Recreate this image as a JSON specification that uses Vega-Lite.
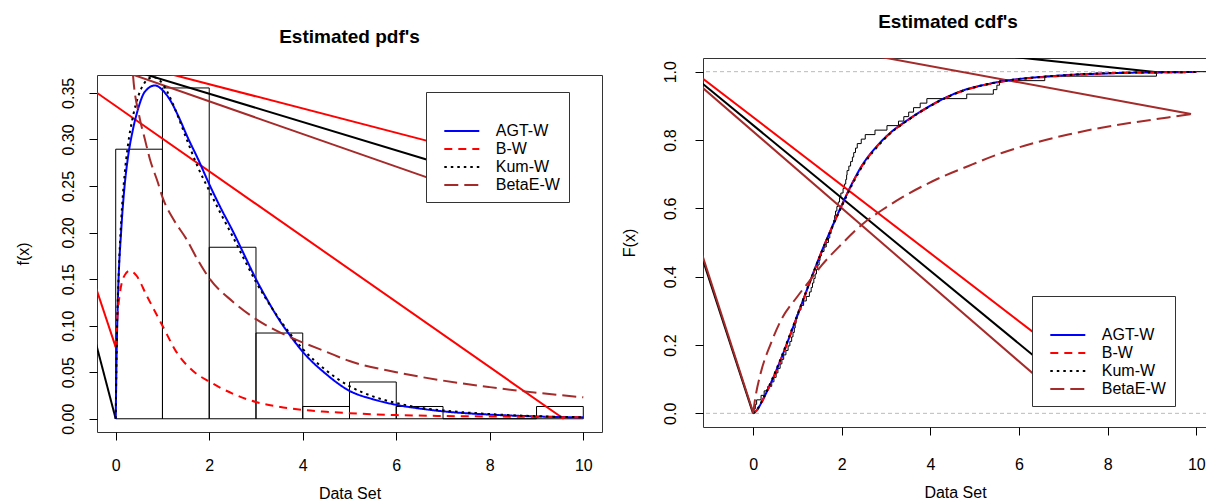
{
  "$schema": "https://vega.github.io/schema/vega-lite/v6.json",
  "padding": {"left": 14, "top": 12, "right": 0, "bottom": 0},
  "background": "white",
  "spacing": 17,
  "config": {
    "font": "Liberation Sans",
    "view": {"stroke": "#333333", "strokeWidth": 1},
    "axis": {"grid": false, "domain": false, "tickColor": "black", "tickSize": 8, "tickWidth": 1, "labelFontSize": 16, "labelColor": "black", "titleFontSize": 16, "titleFontWeight": "normal", "titleColor": "black", "labelFlush": false, "labelOverlap": false},
    "title": {"fontSize": 19, "fontWeight": "bold", "color": "black", "anchor": "middle"}
  },
  "resolve": {"scale": {"color": "independent", "strokeDash": "independent"}},
  "datasets": {
    "hist": [
      {"b0": 0, "b1": 1, "d": 0.2895}, {"b0": 1, "b1": 2, "d": 0.3553}, {"b0": 2, "b1": 3, "d": 0.1842},
      {"b0": 3, "b1": 4, "d": 0.0921}, {"b0": 4, "b1": 5, "d": 0.0132}, {"b0": 5, "b1": 6, "d": 0.0395},
      {"b0": 6, "b1": 7, "d": 0.0132}, {"b0": 7, "b1": 8, "d": 0}, {"b0": 8, "b1": 9, "d": 0}, {"b0": 9, "b1": 10, "d": 0.0132}
    ],
    "pdfseg": [
      {"seg": "a", "model": "B-W", "x": -0.6, "y": 0.357}, {"seg": "a", "model": "B-W", "x": 9.58, "y": 0.0},
      {"seg": "b", "model": "B-W", "x": -0.6, "y": 0.1675}, {"seg": "b", "model": "B-W", "x": 0, "y": 0.077},
      {"seg": "c", "model": "Kum-W", "x": -0.6, "y": 0.115}, {"seg": "c", "model": "Kum-W", "x": 0, "y": 0},
      {"seg": "d", "model": "B-W", "x": 0, "y": 0.3854}, {"seg": "d", "model": "B-W", "x": 7.16, "y": 0.292},
      {"seg": "e", "model": "Kum-W", "x": 0, "y": 0.3795}, {"seg": "e", "model": "Kum-W", "x": 7.07, "y": 0.272},
      {"seg": "f", "model": "BetaE-W", "x": 0, "y": 0.376}, {"seg": "f", "model": "BetaE-W", "x": 7.07, "y": 0.252}
    ],
    "pdf": [
      {"model": "AGT-W", "x": 0, "y": 0}, {"model": "AGT-W", "x": 0.02, "y": 0.07}, {"model": "AGT-W", "x": 0.05, "y": 0.1325},
      {"model": "AGT-W", "x": 0.12, "y": 0.204}, {"model": "AGT-W", "x": 0.19, "y": 0.25}, {"model": "AGT-W", "x": 0.26, "y": 0.28},
      {"model": "AGT-W", "x": 0.37, "y": 0.311}, {"model": "AGT-W", "x": 0.48, "y": 0.333}, {"model": "AGT-W", "x": 0.62, "y": 0.351},
      {"model": "AGT-W", "x": 0.84, "y": 0.358}, {"model": "AGT-W", "x": 1.0, "y": 0.353}, {"model": "AGT-W", "x": 1.19, "y": 0.34},
      {"model": "AGT-W", "x": 1.33, "y": 0.326}, {"model": "AGT-W", "x": 1.55, "y": 0.301}, {"model": "AGT-W", "x": 1.76, "y": 0.279},
      {"model": "AGT-W", "x": 2.0, "y": 0.252}, {"model": "AGT-W", "x": 2.25, "y": 0.226}, {"model": "AGT-W", "x": 2.5, "y": 0.202},
      {"model": "AGT-W", "x": 2.75, "y": 0.176}, {"model": "AGT-W", "x": 3.0, "y": 0.15}, {"model": "AGT-W", "x": 3.25, "y": 0.127},
      {"model": "AGT-W", "x": 3.5, "y": 0.106}, {"model": "AGT-W", "x": 3.75, "y": 0.088}, {"model": "AGT-W", "x": 4.0, "y": 0.072},
      {"model": "AGT-W", "x": 4.5, "y": 0.048}, {"model": "AGT-W", "x": 5.0, "y": 0.03}, {"model": "AGT-W", "x": 5.5, "y": 0.021},
      {"model": "AGT-W", "x": 6.0, "y": 0.015}, {"model": "AGT-W", "x": 6.5, "y": 0.011}, {"model": "AGT-W", "x": 7.0, "y": 0.008},
      {"model": "AGT-W", "x": 8.0, "y": 0.0045}, {"model": "AGT-W", "x": 9.0, "y": 0.0025}, {"model": "AGT-W", "x": 10.0, "y": 0.0015},
      {"model": "B-W", "x": 0, "y": 0.077}, {"model": "B-W", "x": 0.04, "y": 0.112}, {"model": "B-W", "x": 0.09, "y": 0.135},
      {"model": "B-W", "x": 0.19, "y": 0.154}, {"model": "B-W", "x": 0.3, "y": 0.159}, {"model": "B-W", "x": 0.44, "y": 0.154},
      {"model": "B-W", "x": 0.66, "y": 0.1325}, {"model": "B-W", "x": 1.0, "y": 0.1}, {"model": "B-W", "x": 1.3, "y": 0.0716},
      {"model": "B-W", "x": 1.66, "y": 0.051}, {"model": "B-W", "x": 2.0, "y": 0.04}, {"model": "B-W", "x": 2.5, "y": 0.027},
      {"model": "B-W", "x": 3.0, "y": 0.018}, {"model": "B-W", "x": 3.5, "y": 0.013}, {"model": "B-W", "x": 4.0, "y": 0.0095},
      {"model": "B-W", "x": 4.5, "y": 0.0075}, {"model": "B-W", "x": 5.0, "y": 0.006}, {"model": "B-W", "x": 6.0, "y": 0.004},
      {"model": "B-W", "x": 7.0, "y": 0.003}, {"model": "B-W", "x": 8.0, "y": 0.0025}, {"model": "B-W", "x": 9.0, "y": 0.002},
      {"model": "B-W", "x": 10.0, "y": 0.0015},
      {"model": "Kum-W", "x": 0, "y": 0}, {"model": "Kum-W", "x": 0.03, "y": 0.1}, {"model": "Kum-W", "x": 0.06, "y": 0.15},
      {"model": "Kum-W", "x": 0.12, "y": 0.215}, {"model": "Kum-W", "x": 0.19, "y": 0.262}, {"model": "Kum-W", "x": 0.26, "y": 0.293},
      {"model": "Kum-W", "x": 0.37, "y": 0.325}, {"model": "Kum-W", "x": 0.48, "y": 0.346}, {"model": "Kum-W", "x": 0.62, "y": 0.361},
      {"model": "Kum-W", "x": 0.8, "y": 0.367}, {"model": "Kum-W", "x": 1.0, "y": 0.36}, {"model": "Kum-W", "x": 1.19, "y": 0.342},
      {"model": "Kum-W", "x": 1.33, "y": 0.325}, {"model": "Kum-W", "x": 1.55, "y": 0.296}, {"model": "Kum-W", "x": 1.76, "y": 0.27},
      {"model": "Kum-W", "x": 2.0, "y": 0.245}, {"model": "Kum-W", "x": 2.25, "y": 0.22}, {"model": "Kum-W", "x": 2.5, "y": 0.196},
      {"model": "Kum-W", "x": 2.75, "y": 0.171}, {"model": "Kum-W", "x": 3.0, "y": 0.147}, {"model": "Kum-W", "x": 3.25, "y": 0.126},
      {"model": "Kum-W", "x": 3.5, "y": 0.107}, {"model": "Kum-W", "x": 3.75, "y": 0.09}, {"model": "Kum-W", "x": 4.0, "y": 0.075},
      {"model": "Kum-W", "x": 4.5, "y": 0.052}, {"model": "Kum-W", "x": 5.0, "y": 0.035}, {"model": "Kum-W", "x": 5.5, "y": 0.024},
      {"model": "Kum-W", "x": 6.0, "y": 0.017}, {"model": "Kum-W", "x": 6.5, "y": 0.012}, {"model": "Kum-W", "x": 7.0, "y": 0.009},
      {"model": "Kum-W", "x": 8.0, "y": 0.005}, {"model": "Kum-W", "x": 9.0, "y": 0.0028}, {"model": "Kum-W", "x": 10.0, "y": 0.0016},
      {"model": "BetaE-W", "x": 0.34, "y": 0.39}, {"model": "BetaE-W", "x": 0.37, "y": 0.369}, {"model": "BetaE-W", "x": 0.5, "y": 0.326},
      {"model": "BetaE-W", "x": 0.62, "y": 0.301}, {"model": "BetaE-W", "x": 0.73, "y": 0.279}, {"model": "BetaE-W", "x": 0.9, "y": 0.254},
      {"model": "BetaE-W", "x": 1.0, "y": 0.238}, {"model": "BetaE-W", "x": 1.25, "y": 0.213}, {"model": "BetaE-W", "x": 1.5, "y": 0.194},
      {"model": "BetaE-W", "x": 1.75, "y": 0.171}, {"model": "BetaE-W", "x": 2.0, "y": 0.151}, {"model": "BetaE-W", "x": 2.5, "y": 0.126},
      {"model": "BetaE-W", "x": 3.0, "y": 0.107}, {"model": "BetaE-W", "x": 3.5, "y": 0.093}, {"model": "BetaE-W", "x": 4.0, "y": 0.082},
      {"model": "BetaE-W", "x": 4.5, "y": 0.072}, {"model": "BetaE-W", "x": 5.0, "y": 0.062}, {"model": "BetaE-W", "x": 6.0, "y": 0.05},
      {"model": "BetaE-W", "x": 7.0, "y": 0.041}, {"model": "BetaE-W", "x": 8.0, "y": 0.034}, {"model": "BetaE-W", "x": 9.0, "y": 0.028},
      {"model": "BetaE-W", "x": 10.0, "y": 0.023}
    ],
    "ref": [{"F": 0}, {"F": 1}],
    "ecdf": [
      {"x": 0.0, "F": 0}, {"x": 0.02, "F": 0.0132}, {"x": 0.05, "F": 0.0263}, {"x": 0.08, "F": 0.0395}, {"x": 0.18, "F": 0.0526},
      {"x": 0.25, "F": 0.0658}, {"x": 0.33, "F": 0.0789}, {"x": 0.42, "F": 0.0921}, {"x": 0.47, "F": 0.1053}, {"x": 0.52, "F": 0.1184},
      {"x": 0.56, "F": 0.1316}, {"x": 0.61, "F": 0.1447}, {"x": 0.65, "F": 0.1579}, {"x": 0.69, "F": 0.1711}, {"x": 0.74, "F": 0.1842},
      {"x": 0.79, "F": 0.1974}, {"x": 0.83, "F": 0.2105}, {"x": 0.87, "F": 0.2237}, {"x": 0.9, "F": 0.2368}, {"x": 0.93, "F": 0.25},
      {"x": 0.95, "F": 0.2632}, {"x": 0.97, "F": 0.2763}, {"x": 0.99, "F": 0.2895}, {"x": 1.03, "F": 0.3026}, {"x": 1.08, "F": 0.3158},
      {"x": 1.14, "F": 0.3289}, {"x": 1.2, "F": 0.3421}, {"x": 1.27, "F": 0.3553}, {"x": 1.31, "F": 0.3684}, {"x": 1.34, "F": 0.3816},
      {"x": 1.37, "F": 0.3947}, {"x": 1.4, "F": 0.4079}, {"x": 1.43, "F": 0.4211}, {"x": 1.46, "F": 0.4342}, {"x": 1.49, "F": 0.4474},
      {"x": 1.51, "F": 0.4605}, {"x": 1.54, "F": 0.4737}, {"x": 1.6, "F": 0.4868}, {"x": 1.65, "F": 0.5}, {"x": 1.7, "F": 0.5132},
      {"x": 1.73, "F": 0.5263}, {"x": 1.76, "F": 0.5395}, {"x": 1.79, "F": 0.5526}, {"x": 1.82, "F": 0.5658}, {"x": 1.84, "F": 0.5789},
      {"x": 1.86, "F": 0.5921}, {"x": 1.89, "F": 0.6053}, {"x": 1.92, "F": 0.6184}, {"x": 1.95, "F": 0.6316}, {"x": 1.98, "F": 0.6447},
      {"x": 2.03, "F": 0.6579}, {"x": 2.06, "F": 0.6711}, {"x": 2.09, "F": 0.6842}, {"x": 2.11, "F": 0.6974}, {"x": 2.12, "F": 0.7105},
      {"x": 2.16, "F": 0.7237}, {"x": 2.2, "F": 0.7368}, {"x": 2.24, "F": 0.75}, {"x": 2.27, "F": 0.7632}, {"x": 2.31, "F": 0.7763},
      {"x": 2.35, "F": 0.7895}, {"x": 2.44, "F": 0.8026}, {"x": 2.53, "F": 0.8158}, {"x": 2.75, "F": 0.8289}, {"x": 3.02, "F": 0.8421},
      {"x": 3.28, "F": 0.8553}, {"x": 3.4, "F": 0.8684}, {"x": 3.51, "F": 0.8816}, {"x": 3.62, "F": 0.8947}, {"x": 3.77, "F": 0.9079},
      {"x": 3.92, "F": 0.9211}, {"x": 4.82, "F": 0.9342}, {"x": 5.42, "F": 0.9474}, {"x": 5.5, "F": 0.9605}, {"x": 5.56, "F": 0.9737},
      {"x": 6.58, "F": 0.9868}, {"x": 9.1, "F": 1.0}, {"x": 10.3, "F": 1.0}
    ],
    "cdfseg": [
      {"seg": "a", "model": "B-W", "x": -1.3, "y": 0.996}, {"seg": "a", "model": "B-W", "x": 6.9, "y": 0.18},
      {"seg": "b", "model": "Kum-W", "x": -1.3, "y": 0.982}, {"seg": "b", "model": "Kum-W", "x": 6.72, "y": 0.127},
      {"seg": "c", "model": "BetaE-W", "x": -1.3, "y": 0.971}, {"seg": "c", "model": "BetaE-W", "x": 6.72, "y": 0.071},
      {"seg": "d", "model": "Kum-W", "x": -1.3, "y": 0.515}, {"seg": "d", "model": "Kum-W", "x": 0, "y": 0},
      {"seg": "e", "model": "BetaE-W", "x": -1.3, "y": 0.525}, {"seg": "e", "model": "BetaE-W", "x": 0, "y": 0.003},
      {"seg": "f", "model": "BetaE-W", "x": 2.0, "y": 1.064}, {"seg": "f", "model": "BetaE-W", "x": 9.88, "y": 0.876},
      {"seg": "g", "model": "Kum-W", "x": 5.0, "y": 1.0554}, {"seg": "g", "model": "Kum-W", "x": 9.12, "y": 0.998}
    ],
    "cdf": [
      {"model": "AGT-W", "x": 0, "y": 0}, {"model": "AGT-W", "x": 0.1, "y": 0.012}, {"model": "AGT-W", "x": 0.24, "y": 0.045},
      {"model": "AGT-W", "x": 0.43, "y": 0.097}, {"model": "AGT-W", "x": 0.62, "y": 0.156}, {"model": "AGT-W", "x": 0.85, "y": 0.234},
      {"model": "AGT-W", "x": 1.07, "y": 0.311}, {"model": "AGT-W", "x": 1.37, "y": 0.415}, {"model": "AGT-W", "x": 1.56, "y": 0.478},
      {"model": "AGT-W", "x": 1.78, "y": 0.545}, {"model": "AGT-W", "x": 2.01, "y": 0.612}, {"model": "AGT-W", "x": 2.23, "y": 0.672},
      {"model": "AGT-W", "x": 2.46, "y": 0.726}, {"model": "AGT-W", "x": 2.76, "y": 0.777}, {"model": "AGT-W", "x": 3.06, "y": 0.817},
      {"model": "AGT-W", "x": 3.47, "y": 0.857}, {"model": "AGT-W", "x": 3.81, "y": 0.886}, {"model": "AGT-W", "x": 4.03, "y": 0.903},
      {"model": "AGT-W", "x": 4.41, "y": 0.928}, {"model": "AGT-W", "x": 4.78, "y": 0.947}, {"model": "AGT-W", "x": 5.2, "y": 0.961},
      {"model": "AGT-W", "x": 5.54, "y": 0.97}, {"model": "AGT-W", "x": 6.1, "y": 0.98}, {"model": "AGT-W", "x": 6.66, "y": 0.986},
      {"model": "AGT-W", "x": 7.2, "y": 0.991}, {"model": "AGT-W", "x": 7.79, "y": 0.994}, {"model": "AGT-W", "x": 8.5, "y": 0.997},
      {"model": "AGT-W", "x": 9.28, "y": 0.998}, {"model": "AGT-W", "x": 10, "y": 0.999},
      {"model": "B-W", "x": 0, "y": 0}, {"model": "B-W", "x": 0.1, "y": 0.011}, {"model": "B-W", "x": 0.24, "y": 0.044},
      {"model": "B-W", "x": 0.43, "y": 0.096}, {"model": "B-W", "x": 0.62, "y": 0.155}, {"model": "B-W", "x": 0.85, "y": 0.233},
      {"model": "B-W", "x": 1.07, "y": 0.31}, {"model": "B-W", "x": 1.37, "y": 0.414}, {"model": "B-W", "x": 1.56, "y": 0.477},
      {"model": "B-W", "x": 1.78, "y": 0.544}, {"model": "B-W", "x": 2.01, "y": 0.611}, {"model": "B-W", "x": 2.23, "y": 0.671},
      {"model": "B-W", "x": 2.46, "y": 0.725}, {"model": "B-W", "x": 2.76, "y": 0.776}, {"model": "B-W", "x": 3.06, "y": 0.816},
      {"model": "B-W", "x": 3.47, "y": 0.856}, {"model": "B-W", "x": 3.81, "y": 0.885}, {"model": "B-W", "x": 4.03, "y": 0.902},
      {"model": "B-W", "x": 4.41, "y": 0.927}, {"model": "B-W", "x": 4.78, "y": 0.946}, {"model": "B-W", "x": 5.2, "y": 0.96},
      {"model": "B-W", "x": 5.54, "y": 0.969}, {"model": "B-W", "x": 6.1, "y": 0.979}, {"model": "B-W", "x": 6.66, "y": 0.985},
      {"model": "B-W", "x": 7.2, "y": 0.99}, {"model": "B-W", "x": 7.79, "y": 0.994}, {"model": "B-W", "x": 8.5, "y": 0.997},
      {"model": "B-W", "x": 9.28, "y": 0.998}, {"model": "B-W", "x": 10, "y": 0.999},
      {"model": "Kum-W", "x": 0, "y": 0}, {"model": "Kum-W", "x": 0.1, "y": 0.013}, {"model": "Kum-W", "x": 0.24, "y": 0.047},
      {"model": "Kum-W", "x": 0.43, "y": 0.1}, {"model": "Kum-W", "x": 0.62, "y": 0.159}, {"model": "Kum-W", "x": 0.85, "y": 0.237},
      {"model": "Kum-W", "x": 1.07, "y": 0.313}, {"model": "Kum-W", "x": 1.37, "y": 0.415}, {"model": "Kum-W", "x": 1.56, "y": 0.477},
      {"model": "Kum-W", "x": 1.78, "y": 0.543}, {"model": "Kum-W", "x": 2.01, "y": 0.609}, {"model": "Kum-W", "x": 2.23, "y": 0.668},
      {"model": "Kum-W", "x": 2.46, "y": 0.722}, {"model": "Kum-W", "x": 2.76, "y": 0.774}, {"model": "Kum-W", "x": 3.06, "y": 0.815},
      {"model": "Kum-W", "x": 3.47, "y": 0.856}, {"model": "Kum-W", "x": 3.81, "y": 0.885}, {"model": "Kum-W", "x": 4.03, "y": 0.902},
      {"model": "Kum-W", "x": 4.41, "y": 0.927}, {"model": "Kum-W", "x": 4.78, "y": 0.946}, {"model": "Kum-W", "x": 5.2, "y": 0.961},
      {"model": "Kum-W", "x": 5.54, "y": 0.97}, {"model": "Kum-W", "x": 6.1, "y": 0.98}, {"model": "Kum-W", "x": 6.66, "y": 0.986},
      {"model": "Kum-W", "x": 7.2, "y": 0.991}, {"model": "Kum-W", "x": 7.79, "y": 0.995}, {"model": "Kum-W", "x": 8.5, "y": 0.997},
      {"model": "Kum-W", "x": 9.28, "y": 0.998}, {"model": "Kum-W", "x": 10, "y": 0.999},
      {"model": "BetaE-W", "x": 0, "y": 0}, {"model": "BetaE-W", "x": 0.05, "y": 0.045}, {"model": "BetaE-W", "x": 0.17, "y": 0.117},
      {"model": "BetaE-W", "x": 0.4, "y": 0.204}, {"model": "BetaE-W", "x": 0.62, "y": 0.27}, {"model": "BetaE-W", "x": 1.0, "y": 0.342},
      {"model": "BetaE-W", "x": 1.3, "y": 0.392}, {"model": "BetaE-W", "x": 1.56, "y": 0.435}, {"model": "BetaE-W", "x": 2.01, "y": 0.497},
      {"model": "BetaE-W", "x": 2.46, "y": 0.553}, {"model": "BetaE-W", "x": 2.91, "y": 0.595}, {"model": "BetaE-W", "x": 3.36, "y": 0.632},
      {"model": "BetaE-W", "x": 4.06, "y": 0.68}, {"model": "BetaE-W", "x": 4.86, "y": 0.724}, {"model": "BetaE-W", "x": 5.61, "y": 0.762},
      {"model": "BetaE-W", "x": 6.36, "y": 0.792}, {"model": "BetaE-W", "x": 7.11, "y": 0.816}, {"model": "BetaE-W", "x": 7.86, "y": 0.836},
      {"model": "BetaE-W", "x": 8.61, "y": 0.852}, {"model": "BetaE-W", "x": 9.36, "y": 0.866}, {"model": "BetaE-W", "x": 9.88, "y": 0.876}
    ]
  },
  "hconcat": [
    {
      "title": {"text": "Estimated pdf's", "offset": 11, "dx": 41, "anchor": "middle"},
      "spacing": 15,
      "vconcat": [
        {"width": 505, "height": 1, "data": {"values": []}, "mark": "point", "view": {"stroke": null}},
        {
          "width": 505,
          "height": 357,
          "layer": [
            {
              "data": {"name": "hist"},
              "mark": {"type": "rect", "fill": "transparent", "stroke": "black", "strokeWidth": 1},
              "encoding": {
                "x": {"field": "b0", "type": "quantitative", "scale": {"domain": [-0.4, 10.4], "nice": false, "zero": false},
                      "axis": {"values": [0, 2, 4, 6, 8, 10], "format": "d", "title": "Data Set", "labelPadding": 17, "titlePadding": 12}},
                "x2": {"field": "b1"},
                "y": {"field": "d", "type": "quantitative", "scale": {"domain": [-0.0142, 0.3692], "nice": false, "zero": false},
                      "axis": {"values": [0, 0.05, 0.1, 0.15, 0.2, 0.25, 0.3, 0.35], "format": ".2f", "title": "f(x)", "labelAngle": 270, "labelAlign": "center", "labelBaseline": "bottom", "labelPadding": 13, "titlePadding": 29}},
                "y2": {"datum": 0}
              }
            },
            {
              "data": {"name": "pdfseg"},
              "mark": {"type": "line", "strokeWidth": 2, "clip": true},
              "encoding": {
                "x": {"field": "x", "type": "quantitative", "scale": {"domain": [-0.4, 10.4], "nice": false, "zero": false}},
                "y": {"field": "y", "type": "quantitative", "scale": {"domain": [-0.0142, 0.3692], "nice": false, "zero": false}},
                "detail": {"field": "seg"},
                "color": {"field": "model", "type": "nominal",
                          "scale": {"domain": ["AGT-W", "B-W", "Kum-W", "BetaE-W"], "range": ["#0000FF", "#FF0000", "#000000", "#A52A2A"]},
                          "legend": {"orient": "none", "legendX": 329, "legendY": 34, "title": " ", "titleFontSize": 14, "titlePadding": 8, "padding": 9, "strokeColor": "#333333", "fillColor": "white", "labelFontSize": 16, "labelColor": "black", "symbolType": "M-2.5,0H2.5", "symbolSize": 196, "symbolStrokeWidth": 2, "symbolOffset": 18.8, "labelOffset": 26, "rowPadding": 2}}
              }
            },
            {
              "data": {"name": "pdf"},
              "mark": {"type": "line", "strokeWidth": 2, "clip": true, "interpolate": "monotone"},
              "encoding": {
                "x": {"field": "x", "type": "quantitative", "scale": {"domain": [-0.4, 10.4], "nice": false, "zero": false}},
                "y": {"field": "y", "type": "quantitative", "scale": {"domain": [-0.0142, 0.3692], "nice": false, "zero": false}},
                "color": {"field": "model", "type": "nominal",
                          "scale": {"domain": ["AGT-W", "B-W", "Kum-W", "BetaE-W"], "range": ["#0000FF", "#FF0000", "#000000", "#A52A2A"]},
                          "legend": {"orient": "none", "legendX": 329, "legendY": 34, "title": " ", "titleFontSize": 14, "titlePadding": 8, "padding": 9, "strokeColor": "#333333", "fillColor": "white", "labelFontSize": 16, "labelColor": "black", "symbolType": "M-2.5,0H2.5", "symbolSize": 196, "symbolStrokeWidth": 2, "symbolOffset": 18.8, "labelOffset": 26, "rowPadding": 2}},
                "strokeDash": {"field": "model", "type": "nominal",
                          "scale": {"domain": ["AGT-W", "B-W", "Kum-W", "BetaE-W"], "range": [[1, 0], [8, 6], [2.5, 4], [14, 6]]},
                          "legend": {"orient": "none", "legendX": 329, "legendY": 34, "title": " ", "titleFontSize": 14, "titlePadding": 8, "padding": 9, "strokeColor": "#333333", "fillColor": "white", "labelFontSize": 16, "labelColor": "black", "symbolType": "M-2.5,0H2.5", "symbolSize": 196, "symbolStrokeWidth": 2, "symbolOffset": 18.8, "labelOffset": 26, "rowPadding": 2}}
              }
            }
          ]
        }
      ]
    },
    {
      "width": 504,
      "height": 369,
      "title": {"text": "Estimated cdf's", "offset": 26, "dx": -7, "anchor": "middle"},
      "layer": [
        {
          "data": {"name": "ref"},
          "mark": {"type": "rule", "color": "#BBBBBB", "strokeDash": [4, 3], "strokeWidth": 1},
          "encoding": {
            "y": {"field": "F", "type": "quantitative", "scale": {"domain": [-0.04, 1.04], "nice": false, "zero": false},
                  "axis": {"values": [0, 0.2, 0.4, 0.6, 0.8, 1.0], "format": ".1f", "title": "F(x)", "labelAngle": 270, "labelAlign": "center", "labelBaseline": "bottom", "labelPadding": 17, "titlePadding": 25}}
          }
        },
        {
          "data": {"name": "ecdf"},
          "mark": {"type": "line", "interpolate": "step-after", "color": "black", "strokeWidth": 1, "clip": true},
          "encoding": {
            "x": {"field": "x", "type": "quantitative", "scale": {"domain": [-1.13, 10.24], "nice": false, "zero": false},
                  "axis": {"values": [0, 2, 4, 6, 8, 10], "format": "d", "title": "Data Set", "labelPadding": 21, "titlePadding": 12}},
            "y": {"field": "F", "type": "quantitative", "scale": {"domain": [-0.04, 1.04], "nice": false, "zero": false}}
          }
        },
        {
          "data": {"name": "cdfseg"},
          "mark": {"type": "line", "strokeWidth": 2, "clip": true},
          "encoding": {
            "x": {"field": "x", "type": "quantitative", "scale": {"domain": [-1.13, 10.24], "nice": false, "zero": false}},
            "y": {"field": "y", "type": "quantitative", "scale": {"domain": [-0.04, 1.04], "nice": false, "zero": false}},
            "detail": {"field": "seg"},
            "color": {"field": "model", "type": "nominal",
                      "scale": {"domain": ["AGT-W", "B-W", "Kum-W", "BetaE-W"], "range": ["#0000FF", "#FF0000", "#000000", "#A52A2A"]},
                      "legend": {"orient": "none", "legendX": 329, "legendY": 238, "title": " ", "titleFontSize": 14, "titlePadding": 8, "padding": 9, "strokeColor": "#333333", "fillColor": "white", "labelFontSize": 16, "labelColor": "black", "symbolType": "M-2.5,0H2.5", "symbolSize": 196, "symbolStrokeWidth": 2, "symbolOffset": 18.8, "labelOffset": 26, "rowPadding": 2}}
          }
        },
        {
          "data": {"name": "cdf"},
          "mark": {"type": "line", "strokeWidth": 2, "clip": true, "interpolate": "monotone"},
          "encoding": {
            "x": {"field": "x", "type": "quantitative", "scale": {"domain": [-1.13, 10.24], "nice": false, "zero": false}},
            "y": {"field": "y", "type": "quantitative", "scale": {"domain": [-0.04, 1.04], "nice": false, "zero": false}},
            "color": {"field": "model", "type": "nominal",
                      "scale": {"domain": ["AGT-W", "B-W", "Kum-W", "BetaE-W"], "range": ["#0000FF", "#FF0000", "#000000", "#A52A2A"]},
                      "legend": {"orient": "none", "legendX": 329, "legendY": 238, "title": " ", "titleFontSize": 14, "titlePadding": 8, "padding": 9, "strokeColor": "#333333", "fillColor": "white", "labelFontSize": 16, "labelColor": "black", "symbolType": "M-2.5,0H2.5", "symbolSize": 196, "symbolStrokeWidth": 2, "symbolOffset": 18.8, "labelOffset": 26, "rowPadding": 2}},
            "strokeDash": {"field": "model", "type": "nominal",
                      "scale": {"domain": ["AGT-W", "B-W", "Kum-W", "BetaE-W"], "range": [[1, 0], [8, 6], [2.5, 4], [14, 6]]},
                      "legend": {"orient": "none", "legendX": 329, "legendY": 238, "title": " ", "titleFontSize": 14, "titlePadding": 8, "padding": 9, "strokeColor": "#333333", "fillColor": "white", "labelFontSize": 16, "labelColor": "black", "symbolType": "M-2.5,0H2.5", "symbolSize": 196, "symbolStrokeWidth": 2, "symbolOffset": 18.8, "labelOffset": 26, "rowPadding": 2}}
          }
        }
      ]
    }
  ]
}
